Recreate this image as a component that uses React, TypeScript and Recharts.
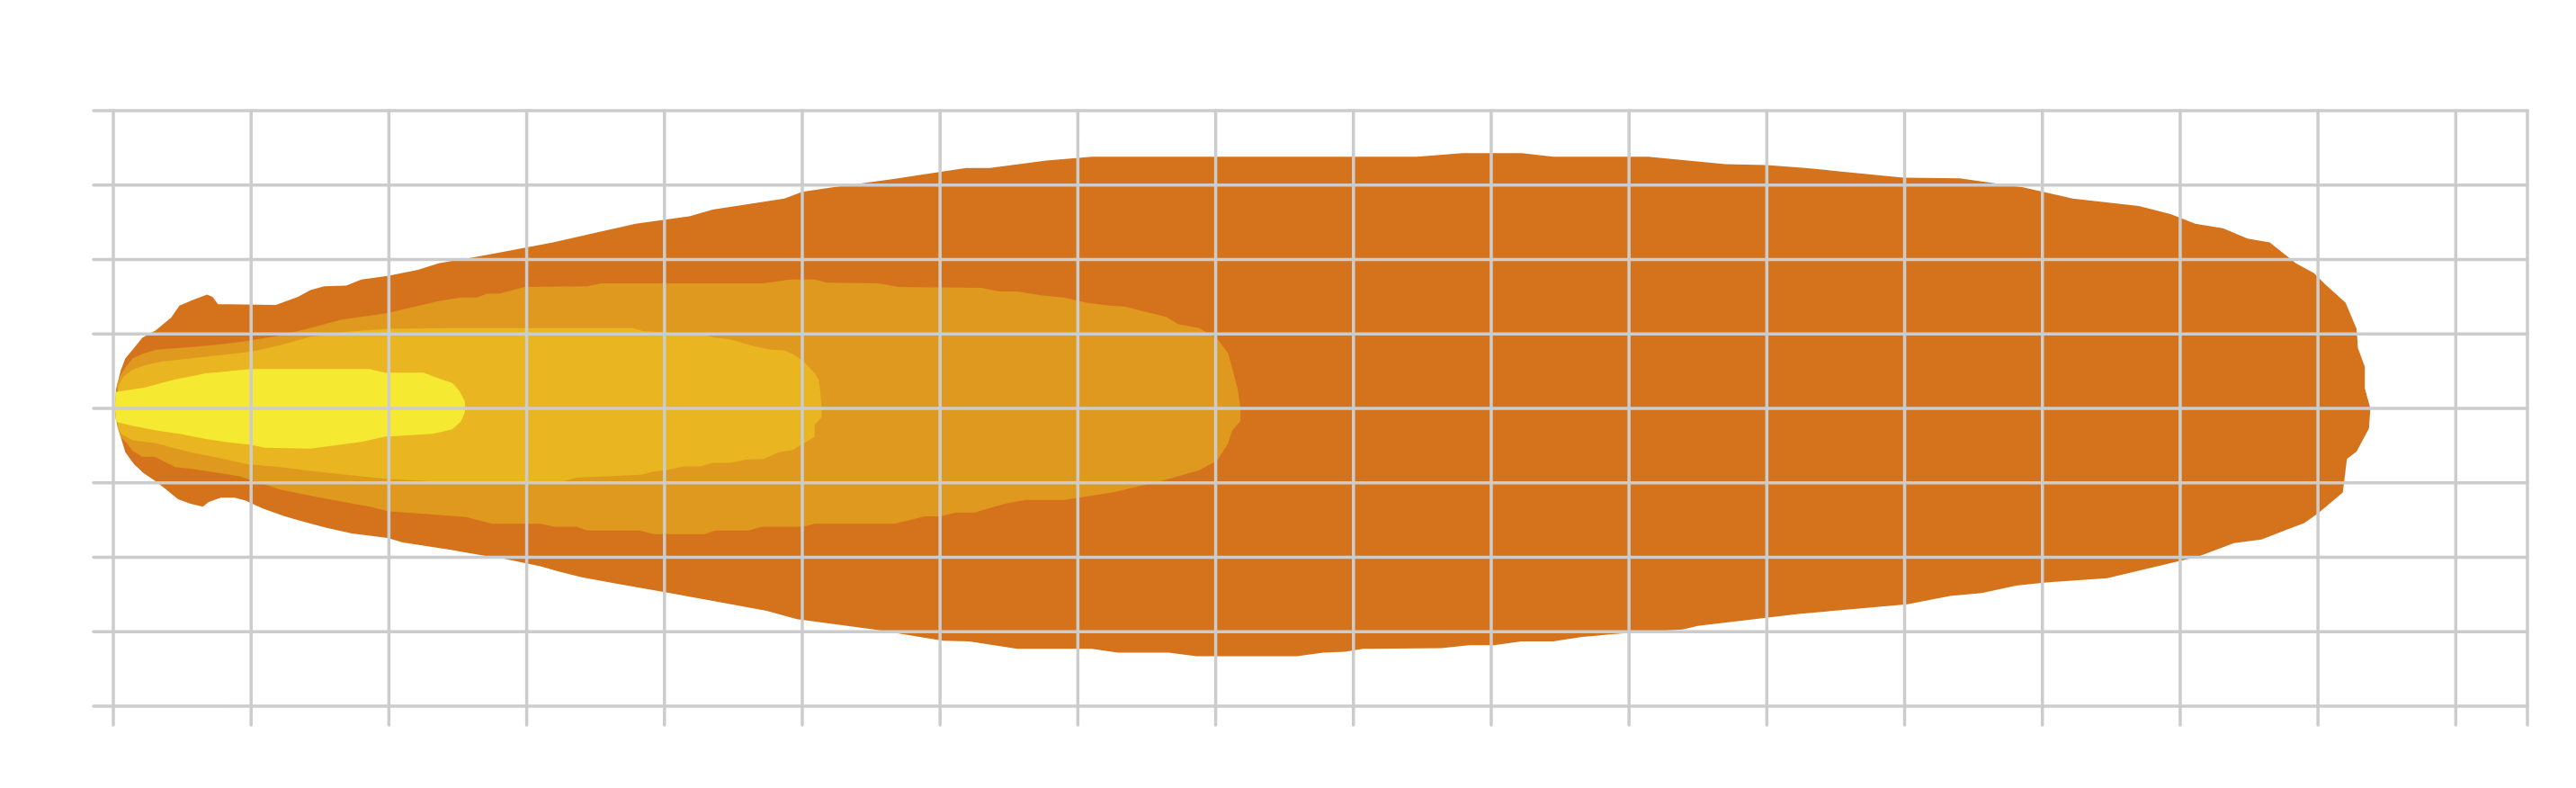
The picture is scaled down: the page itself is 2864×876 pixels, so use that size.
import { ComposedChart, Area, XAxis, YAxis, CartesianGrid } from "recharts";

type Pt = [number, number];

// axis ticks (no labels in the picture, just grid + tick marks)
const xTicks = [0, 1, 2, 3, 4, 5, 6, 7, 8, 9, 10, 11, 12, 13, 14, 15, 16, 17, 17.52];
const yTicks = [-4, -3, -2, -1, 0, 1, 2, 3, 4];

// contour edges as [x, y]
const outerUpper: Pt[] = [
  [0.01, 0], [0.02, 0.26], [0.054, 0.51], [0.087, 0.67], [0.14, 0.79], [0.21, 0.95],
  [0.31, 1.05], [0.42, 1.22], [0.48, 1.38], [0.58, 1.46], [0.68, 1.53], [0.72, 1.5],
  [0.76, 1.4], [1.18, 1.39], [1.34, 1.5], [1.43, 1.59], [1.53, 1.64], [1.69, 1.65],
  [1.8, 1.73], [1.99, 1.78], [2.21, 1.86], [2.36, 1.95], [2.68, 2.05], [2.88, 2.12],
  [3.19, 2.23], [3.55, 2.38], [3.79, 2.48], [4.18, 2.58], [4.35, 2.67], [4.87, 2.82],
  [5.0, 2.91], [5.22, 2.97], [5.65, 3.08], [6.19, 3.23], [6.36, 3.23], [6.77, 3.33],
  [7.1, 3.38], [9.46, 3.38], [9.79, 3.43], [10.22, 3.43], [10.45, 3.38], [11.14, 3.38],
  [11.7, 3.28], [12.0, 3.27], [12.28, 3.23], [12.99, 3.1], [13.4, 3.09], [13.86, 2.97],
  [14.22, 2.82], [14.7, 2.72], [14.93, 2.61], [15.11, 2.48], [15.31, 2.42], [15.49, 2.28],
  [15.65, 2.23], [15.84, 1.95], [15.97, 1.82], [16.05, 1.67], [16.2, 1.42], [16.28, 1.07],
  [16.29, 0.81], [16.34, 0.56], [16.34, 0.27], [16.38, 0],
];
const outerLower: Pt[] = [
  [0.01, 0], [0.017, -0.14], [0.04, -0.3], [0.087, -0.59], [0.15, -0.75], [0.22, -0.87],
  [0.3, -0.97], [0.37, -1.07], [0.47, -1.22], [0.56, -1.28], [0.65, -1.32], [0.69, -1.26],
  [0.78, -1.2], [0.88, -1.2], [0.96, -1.24], [1.08, -1.34], [1.23, -1.44], [1.34, -1.5],
  [1.54, -1.6], [1.73, -1.68], [1.99, -1.74], [2.1, -1.8], [2.45, -1.9], [2.73, -1.99],
  [2.84, -2.02], [3.1, -2.12], [3.23, -2.19], [3.4, -2.27], [3.64, -2.35], [4.01, -2.47],
  [4.27, -2.56], [4.74, -2.72], [4.96, -2.83], [5.52, -2.97], [6.02, -3.12], [6.21, -3.13],
  [6.56, -3.23], [7.1, -3.23], [7.29, -3.28], [7.66, -3.28], [7.86, -3.33], [8.59, -3.33],
  [8.78, -3.28], [8.94, -3.27], [9.07, -3.23], [9.64, -3.22], [9.84, -3.18], [10.02, -3.18],
  [10.22, -3.13], [10.45, -3.13], [10.66, -3.07], [10.96, -3.02], [11.39, -2.97], [11.5, -2.92],
  [12.23, -2.76], [12.54, -2.71], [13.02, -2.63], [13.33, -2.52], [13.56, -2.48], [13.81, -2.38],
  [14.01, -2.34], [14.47, -2.28], [15.13, -1.99], [15.39, -1.81], [15.59, -1.76], [15.9, -1.54],
  [16.0, -1.41], [16.18, -1.13], [16.2, -0.83], [16.21, -0.68], [16.28, -0.58], [16.37, -0.27],
  [16.38, 0],
];

const mediumUpper: Pt[] = [
  [0.02, 0], [0.03, 0.34], [0.054, 0.45], [0.087, 0.55], [0.14, 0.67], [0.21, 0.73],
  [0.31, 0.79], [0.61, 0.83], [0.78, 0.86], [0.95, 0.9], [1.21, 0.98], [1.41, 1.07],
  [1.65, 1.19], [1.99, 1.28], [2.36, 1.44], [2.53, 1.49], [2.64, 1.49], [2.71, 1.54],
  [2.8, 1.54], [2.985, 1.63], [3.44, 1.64], [3.54, 1.68], [4.72, 1.68], [4.91, 1.73],
  [5.09, 1.73], [5.18, 1.69], [5.55, 1.68], [5.7, 1.63], [6.3, 1.62], [6.43, 1.57],
  [6.56, 1.57], [6.73, 1.52], [6.9, 1.49], [7.06, 1.42], [7.23, 1.38], [7.34, 1.37],
  [7.53, 1.28], [7.64, 1.23], [7.73, 1.13], [7.88, 1.08], [8.01, 0.94], [8.09, 0.74],
  [8.12, 0.54], [8.16, 0.26], [8.18, 0],
];
const mediumLower: Pt[] = [
  [0.02, 0], [0.03, -0.25], [0.054, -0.385], [0.1, -0.47], [0.14, -0.57], [0.21, -0.65],
  [0.3, -0.65], [0.45, -0.79], [0.56, -0.81], [0.91, -0.91], [1.08, -1.01], [1.21, -1.09],
  [1.45, -1.18], [1.86, -1.32], [1.99, -1.38], [2.45, -1.445], [2.56, -1.46], [2.75, -1.55],
  [3.1, -1.55], [3.2, -1.59], [3.36, -1.59], [3.44, -1.64], [3.82, -1.64], [3.92, -1.69],
  [4.29, -1.69], [4.37, -1.64], [4.61, -1.64], [4.71, -1.59], [5.01, -1.59], [5.09, -1.55],
  [5.67, -1.55], [5.89, -1.45], [6.0, -1.45], [6.12, -1.4], [6.25, -1.4], [6.47, -1.28],
  [6.62, -1.23], [6.9, -1.23], [7.25, -1.13], [7.6, -0.98], [7.88, -0.83], [8.01, -0.7],
  [8.09, -0.47], [8.12, -0.3], [8.18, -0.17], [8.18, 0],
];

const lightUpper: Pt[] = [
  [0.025, 0], [0.035, 0.3], [0.07, 0.42], [0.14, 0.52], [0.23, 0.58], [0.35, 0.63],
  [0.5, 0.66], [0.7, 0.7], [1.0, 0.76], [1.21, 0.85], [1.43, 0.96], [1.7, 1.03],
  [1.99, 1.07], [2.45, 1.08], [3.77, 1.08], [3.84, 1.04], [4.29, 0.99], [4.37, 0.95],
  [4.47, 0.93], [4.64, 0.84], [4.77, 0.79], [4.87, 0.78], [4.93, 0.73], [5.01, 0.63],
  [5.09, 0.47], [5.12, 0.38], [5.13, 0.24], [5.14, 0.02], [5.14, 0],
];
const lightLower: Pt[] = [
  [0.025, 0], [0.035, -0.25], [0.054, -0.34], [0.14, -0.43], [0.32, -0.47], [0.43, -0.53],
  [0.56, -0.59], [0.78, -0.67], [0.97, -0.75], [1.21, -0.79], [1.47, -0.85], [1.99, -0.95],
  [2.45, -0.99], [3.27, -0.98], [3.36, -0.93], [3.83, -0.89], [3.92, -0.85], [4.01, -0.83],
  [4.14, -0.78], [4.26, -0.78], [4.35, -0.73], [4.48, -0.73], [4.59, -0.69], [4.72, -0.68],
  [4.83, -0.59], [4.93, -0.56], [5.09, -0.38], [5.09, -0.22], [5.14, -0.12], [5.14, 0],
];

const yellowUpper: Pt[] = [
  [0.012, 0], [0.017, 0.22], [0.23, 0.28], [0.35, 0.34], [0.45, 0.39], [0.56, 0.43],
  [0.67, 0.47], [1.0, 0.53], [1.86, 0.53], [1.97, 0.48], [2.25, 0.48], [2.38, 0.39],
  [2.46, 0.34], [2.51, 0.24], [2.55, 0.1], [2.555, 0],
];
const yellowLower: Pt[] = [
  [0.012, 0], [0.02, -0.18], [0.15, -0.24], [0.32, -0.3], [0.48, -0.34], [0.67, -0.41],
  [0.81, -0.45], [1.0, -0.49], [1.1, -0.53], [1.43, -0.54], [1.8, -0.45], [1.97, -0.38],
  [2.32, -0.34], [2.46, -0.28], [2.52, -0.18], [2.55, -0.06], [2.555, 0],
];

const levels = [
  { name: "outer", color: "#d5731d", upper: outerUpper, lower: outerLower },
  { name: "medium", color: "#df991e", upper: mediumUpper, lower: mediumLower },
  { name: "light", color: "#e9b521", upper: lightUpper, lower: lightLower },
  { name: "yellow", color: "#f5e932", upper: yellowUpper, lower: yellowLower },
];

const toRows = (pts: Pt[]) => pts.map(([x, y]) => ({ x, y }));

const GRID = "#cccccc";
const LINE = { stroke: GRID, strokeWidth: 3.5, strokeLinecap: "round" as const };
const noLabel = () => <g />;

// grid and tick lines are fairly heavy in the original
const css = `
.plume .recharts-cartesian-grid line,
.plume .recharts-cartesian-axis-tick-line {
  stroke: ${GRID};
  stroke-width: 3.5px;
  stroke-linecap: round;
}
`;

export default function App() {
  return (
    <div className="plume">
      <style>{css}</style>
      <ComposedChart
        width={2848}
        height={860}
        margin={{ top: 115, right: 46, bottom: 0, left: 0 }}
      >
        <XAxis
          type="number"
          dataKey="x"
          domain={[0, 17.52]}
          ticks={xTicks}
          interval={0}
          allowDataOverflow
          height={83}
          tick={noLabel}
          tickSize={21}
          axisLine={false}
          stroke={GRID}
          tickLine={LINE}
        />
        <YAxis
          type="number"
          domain={[-4, 4]}
          ticks={yTicks}
          interval={0}
          allowDataOverflow
          width={118}
          tick={noLabel}
          tickSize={22}
          axisLine={false}
          stroke={GRID}
          tickLine={LINE}
        />
        {levels.flatMap((l) => [
          <Area
            key={`${l.name}-up`}
            data={toRows(l.upper)}
            dataKey="y"
            type="linear"
            baseValue={0}
            fill={l.color}
            fillOpacity={1}
            stroke="none"
            dot={false}
            activeDot={false}
            isAnimationActive={false}
          />,
          <Area
            key={`${l.name}-down`}
            data={toRows(l.lower)}
            dataKey="y"
            type="linear"
            baseValue={0}
            fill={l.color}
            fillOpacity={1}
            stroke="none"
            dot={false}
            activeDot={false}
            isAnimationActive={false}
          />,
        ])}
        <CartesianGrid
          stroke={GRID}
          strokeWidth={3.5}
          horizontal={LINE}
          vertical={LINE}
          zIndex={500}
        />
      </ComposedChart>
    </div>
  );
}
